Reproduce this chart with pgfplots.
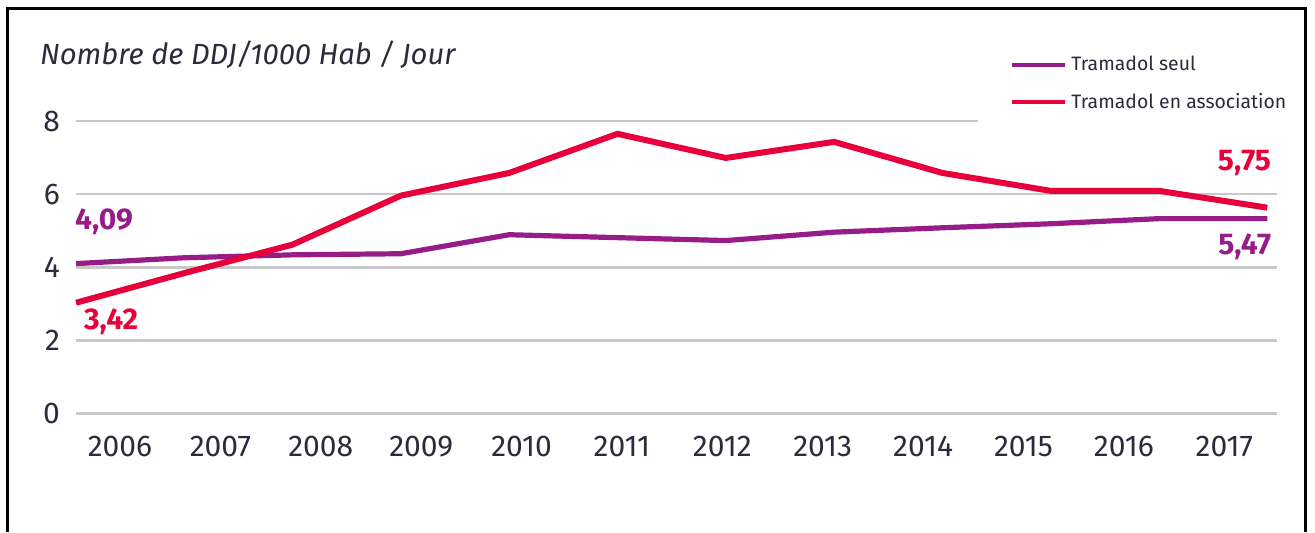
\documentclass[border=0pt]{standalone}
\usepackage{fontspec}
\setmainfont{Fira Sans}
\usepackage{pgfplots}
\pgfplotsset{compat=1.18}

\definecolor{seul}{RGB}{150,28,135}
\definecolor{assoc}{RGB}{232,0,58}
\definecolor{txt}{RGB}{43,43,59}
\definecolor{grille}{RGB}{200,200,200}

\begin{document}
\begin{tikzpicture}
\useasboundingbox (0,0) rectangle (657.5pt,266pt);
\draw[line width=1.5pt] (3.5pt,0) -- (3.5pt,262pt) -- (652.5pt,262pt) -- (652.5pt,0);
\node[anchor=west, text=txt, font=\fontsize{14.6}{17}\selectfont\itshape] at (16.5pt,238.5pt) {Nombre de DDJ/1000 Hab / Jour};
\begin{axis}[
  at={(38pt,59.25pt)}, anchor=south west,
  scale only axis,
  width=600.5pt, height=146.25pt,
  xmin=0, xmax=11.09,
  ymin=0, ymax=8,
  axis line style={draw=none},
  tick style={draw=none},
  ytick={0,2,4,6,8},
  ymajorgrids,
  major grid style={grille, line width=1.3pt},
  xtick={0.406,1.333,2.26,3.187,4.114,5.041,5.968,6.895,7.822,8.749,9.676,10.603},
  xticklabels={2006,2007,2008,2009,2010,2011,2012,2013,2014,2015,2016,2017},
  xticklabel style={yshift=-8pt},
  yticklabel style={xshift=-4.5pt},
  ticklabel style={text=txt, font=\fontsize{15}{18}\selectfont},
  /pgf/number format/assume math mode=true,
  clip=false,
  legend style={draw=none, fill=none, at={(rel axis cs:0.7777,1.238)}, anchor=north west,
    font=\fontsize{9.7}{11.5}\selectfont, text=txt, row sep=6pt, inner sep=0pt},
  legend cell align=left,
  legend image code/.code={\draw[#1, line width=2pt] (0pt,0pt) -- (26.5pt,0pt);},
]
\addplot[seul, line width=2.6pt] coordinates {
  (0,4.10) (1,4.26) (2,4.34) (3,4.37) (4,4.89) (5,4.81)
  (6,4.73) (7,4.96) (8,5.08) (9,5.19) (10,5.33) (11,5.33)
};
\addlegendentry{Tramadol seul}
\addplot[assoc, line width=3pt] coordinates {
  (0,3.03) (1,3.84) (2,4.62) (3,5.96) (4,6.58) (5,7.65)
  (6,6.99) (7,7.43) (8,6.58) (9,6.09) (10,6.09) (11,5.63)
};
\addlegendentry{Tramadol en association}
\fill[white] (rel axis cs:0.751,0.97) rectangle (rel axis cs:1.02,1.03);
\node[anchor=west, text=seul, font=\fontsize{15}{18}\selectfont\bfseries] at (axis cs:-0.074,5.25) {4,09};
\node[anchor=west, text=assoc, font=\fontsize{15}{18}\selectfont\bfseries] at (axis cs:0.01,2.5) {3,42};
\node[anchor=east, text=assoc, font=\fontsize{15}{18}\selectfont\bfseries] at (axis cs:11.1,6.85) {5,75};
\node[anchor=east, text=seul, font=\fontsize{15}{18}\selectfont\bfseries] at (axis cs:11.1,4.55) {5,47};
\end{axis}
\end{tikzpicture}
\end{document}
